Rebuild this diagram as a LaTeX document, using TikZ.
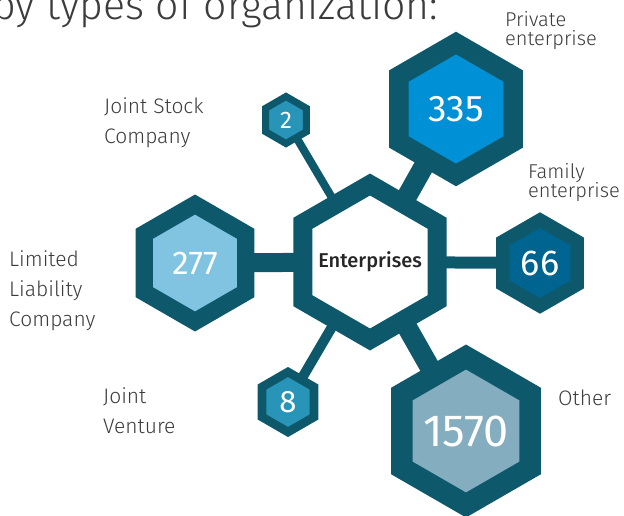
\documentclass[tikz,border=0pt]{standalone}
\usepackage{fontspec}
\setmainfont{Fira Sans}
\newfontfamily\lightfont{Fira Sans Light}
\newfontfamily\midfont{Fira Sans Medium}
\usetikzlibrary{shapes.geometric,backgrounds}

\definecolor{ringblue}{RGB}{14,88,108}
\definecolor{privblue}{RGB}{0,144,214}
\definecolor{llcblue}{RGB}{128,196,226}
\definecolor{famblue}{RGB}{0,100,145}
\definecolor{othblue}{RGB}{132,174,191}
\definecolor{smallblue}{RGB}{40,148,184}
\definecolor{labelgray}{RGB}{60,60,60}

\setlength{\lineskiplimit}{-20pt}

\begin{document}
\begin{tikzpicture}[x=1pt,y=-1pt,
	hexa/.style={regular polygon, regular polygon sides=6, shape border rotate=30,
		draw=ringblue, inner sep=0pt, outer sep=0pt, text=white},
	link/.style={draw=ringblue, line cap=butt},
	lbl/.style={anchor=north west, align=left, inner sep=0pt, text=labelgray,
		font=\lightfont\fontsize{21}{30}\selectfont},
	tight/.style={font=\lightfont\fontsize{20}{19.5}\selectfont}]
	\useasboundingbox (0,0) rectangle (624,516);
	
	% title, cut by the top edge
	\node[anchor=base west, inner sep=0pt, text=labelgray,
		font=\lightfont\fontsize{41}{44}\selectfont] (title) at (-8,20) {by types of organization:};
	
	% hub and the six counts
	\node[hexa, minimum size=155pt, line width=19pt, fill=white, text=black!85,
		font=\midfont\fontsize{20}{22}\selectfont] (hub) at (370,262) {\makebox[0pt]{Enterprises}};
	\node[hexa, minimum size=132pt, line width=19.5pt, fill=privblue,
		font=\fontsize{37}{40}\selectfont] (priv) at (456,109) {335};
	\node[hexa, minimum size=86pt, line width=13.4pt, fill=famblue,
		font=\fontsize{36}{40}\selectfont] (fam) at (540,263) {66};
	\node[hexa, minimum size=148pt, line width=21.6pt, fill=othblue,
		font=\fontsize{45}{50}\selectfont] (oth) at (466,431) {1570};
	\node[hexa, minimum size=117pt, line width=17.3pt, fill=llcblue,
		font=\fontsize{33}{36}\selectfont] (llc) at (195,263) {277};
	\node[hexa, minimum size=60pt, line width=8.7pt, fill=smallblue,
		font=\fontsize{31}{34}\selectfont] (jv) at (288,402) {8};
	\node[hexa, minimum size=47pt, line width=7pt, fill=smallblue,
		font=\fontsize{24}{26}\selectfont] (jsc) at (286,120) {2};
	
	% bars behind the hexagons
	\begin{scope}[on background layer]
		\draw[link, line width=20pt] (hub.center) -- (priv.center);
		\draw[link, line width=12pt] (hub.center) -- (fam.center);
		\draw[link, line width=20pt] (hub.center) -- (oth.center);
		\draw[link, line width=19pt] (hub.center) -- (llc.center);
		\draw[link, line width=10pt] (hub.center) -- (jv.center);
		\draw[link, line width=8pt] (hub.center) -- (jsc.center);
	\end{scope}
	
	% labels
	\node[lbl, tight] (lpriv) at (505,11) {Private\\enterprise};
	\node[lbl, tight] (lfam) at (528,163) {Family\\enterprise};
	\node[lbl] (ljsc) at (104,97) {Joint Stock\\Company};
	\node[lbl] (lllc) at (9,250) {Limited\\Liability\\Company};
	\node[lbl] (ljv) at (103,387) {Joint\\Venture};
	\node[lbl] (loth) at (558,390) {Other};
\end{tikzpicture}
\end{document}
